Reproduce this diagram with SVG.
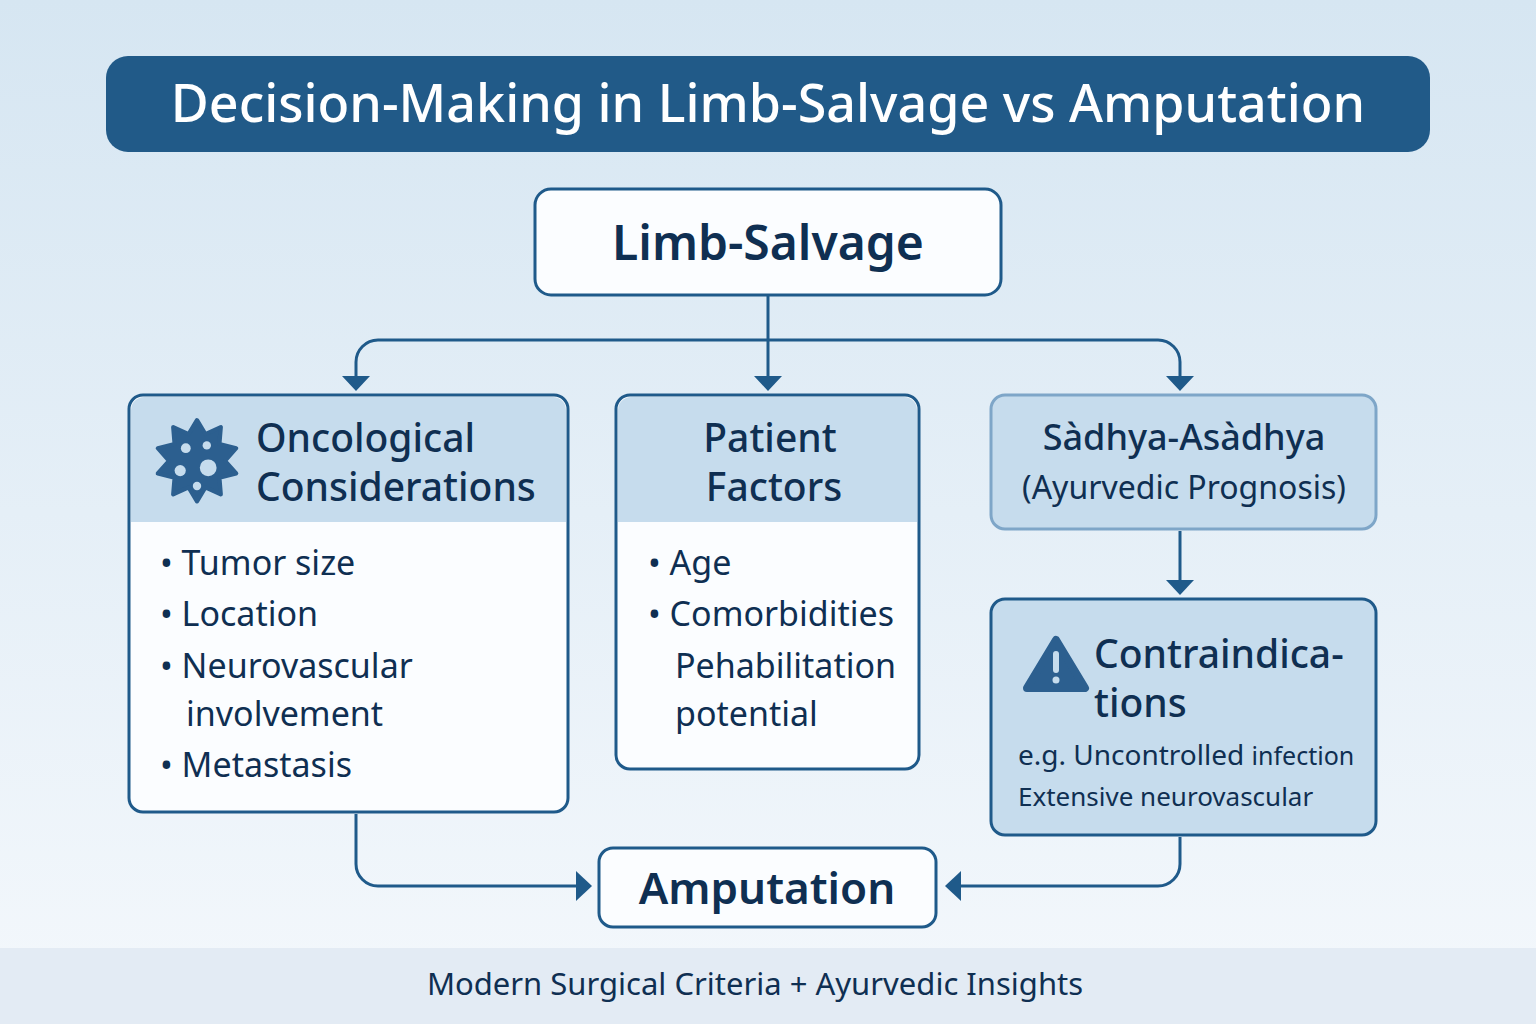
<svg xmlns="http://www.w3.org/2000/svg" width="1536" height="1024" viewBox="0 0 1536 1024">
<defs>
<linearGradient id="bg" x1="0" y1="0" x2="0" y2="1"><stop offset="0" stop-color="#d6e6f2"/><stop offset="1" stop-color="#f4f8fc"/></linearGradient>
</defs>
<style>
text{font-family:"Noto Sans","Open Sans",sans-serif;fill:#0f2f52}
.box{fill:#fbfdff;stroke:#1f5a8a;stroke-width:3}
.hd{fill:#c6dced}
.h{font-size:39px;font-weight:500}
.b{font-size:34px}
.c{fill:none;stroke:#1f5a8a;stroke-width:3}
</style>
<rect width="1536" height="1024" fill="url(#bg)"/>
<rect x="0" y="948" width="1536" height="76" fill="#e3ebf4"/>
<text x="755" y="995" text-anchor="middle" font-size="31">Modern Surgical Criteria + Ayurvedic Insights</text>
<g id="title"><rect x="106" y="56" width="1324" height="96" rx="22" fill="#215a88"/>
<text x="768" y="122" text-anchor="middle" font-size="52" font-weight="500" style="fill:#fff">Decision-Making in Limb-Salvage vs Amputation</text></g>
<g id="limb"><rect class="box" x="535" y="189" width="466" height="106" rx="16"/>
<text x="768" y="260" text-anchor="middle" font-size="48" font-weight="600">Limb-Salvage</text></g>
<g id="onco"><rect class="box" x="129" y="395" width="439" height="417" rx="14"/>
<path class="hd" d="M131,522 V410 a13,13 0 0 1 13,-13 H553 a13,13 0 0 1 13,13 V522z"/>
<g transform="translate(197,465) scale(1.4) translate(-197,-465)">
<path fill="#2c5f8f" d="M197,433 l6,10 11,-5 -1,12 12,3 -8,9 8,9 -12,3 1,12 -11,-5 -6,10 -6,-10 -11,5 1,-12 -12,-3 8,-9 -8,-9 12,-3 -1,-12 11,5z" stroke="#2c5f8f" stroke-width="3" stroke-linejoin="round"/>
<g fill="#c6dced"><circle cx="189" cy="453" r="3.5"/><circle cx="204" cy="451" r="3"/><circle cx="205" cy="467" r="6"/><circle cx="185" cy="469" r="4"/><circle cx="197" cy="480" r="3"/></g></g>
<text class="h" x="256" y="452">Oncological</text><text class="h" x="256" y="501">Considerations</text>
<g class="b"><text x="160" y="575">• Tumor size</text><text x="160" y="626">• Location</text><text x="160" y="678">• Neurovascular</text><text x="186" y="726">involvement</text><text x="160" y="777">• Metastasis</text></g></g>
<g id="patient"><rect class="box" x="616" y="395" width="303" height="374" rx="14"/>
<path class="hd" d="M618,522 V410 a13,13 0 0 1 13,-13 H904 a13,13 0 0 1 13,13 V522z"/>
<text class="h" x="770" y="452" text-anchor="middle">Patient</text><text class="h" x="774" y="501" text-anchor="middle">Factors</text>
<g class="b"><text x="648" y="575">• Age</text><text x="648" y="626">• Comorbidities</text><text x="675" y="678">Pehabilitation</text><text x="675" y="726">potential</text></g></g>
<g id="sadhya"><rect x="991" y="395" width="385" height="134" rx="14" fill="#c6dced" stroke="#7ea6c8" stroke-width="3"/>
<text x="1184" y="450" text-anchor="middle" font-size="36" font-weight="500">Sàdhya-Asàdhya</text>
<text x="1184" y="499" text-anchor="middle" font-size="32">(Ayurvedic Prognosis)</text></g>
<g id="contra"><rect x="991" y="599" width="385" height="236" rx="14" fill="#c6dced" stroke="#1f5a8a" stroke-width="3"/>
<path d="M1056,640 L1085,688 H1027z" fill="#2c5f8f" stroke="#2c5f8f" stroke-width="8" stroke-linejoin="round"/>
<rect x="1053" y="651" width="6" height="22" rx="3" fill="#c6dced"/><circle cx="1056" cy="680" r="3.5" fill="#c6dced"/>
<text class="h" x="1094" y="668">Contraindica-</text><text class="h" x="1094" y="717">tions</text>
<text x="1018" y="765" font-size="28">e.g. Uncontrolled <tspan font-size="25">infection</tspan></text>
<text x="1018" y="806" font-size="26">Extensive neurovascular</text></g>
<g id="amp"><rect class="box" x="599" y="848" width="337" height="79" rx="14"/>
<text x="767" y="904" text-anchor="middle" font-size="44" font-weight="600">Amputation</text></g>
<g id="connectors">
<path class="c" d="M768,295 V380"/>
<path class="c" d="M356,380 V362 a22,22 0 0 1 22,-22 H1158 a22,22 0 0 1 22,22 V380"/>
<path d="M342,376 L356,391 L370,376z M1166,376 L1180,391 L1194,376z M754,376 L768,391 L782,376z" fill="#1f5a8a"/>
<path class="c" d="M1180,531 V584"/><path d="M1166,580 L1180,595 L1194,580z" fill="#1f5a8a"/>
<path class="c" d="M356,814 V864 a22,22 0 0 0 22,22 H580"/><path d="M576,871 L592,886 L576,901z" fill="#1f5a8a"/>
<path class="c" d="M1180,837 V864 a22,22 0 0 1 -22,22 H958"/><path d="M961,871 L945,886 L961,901z" fill="#1f5a8a"/>
</g>
</svg>
